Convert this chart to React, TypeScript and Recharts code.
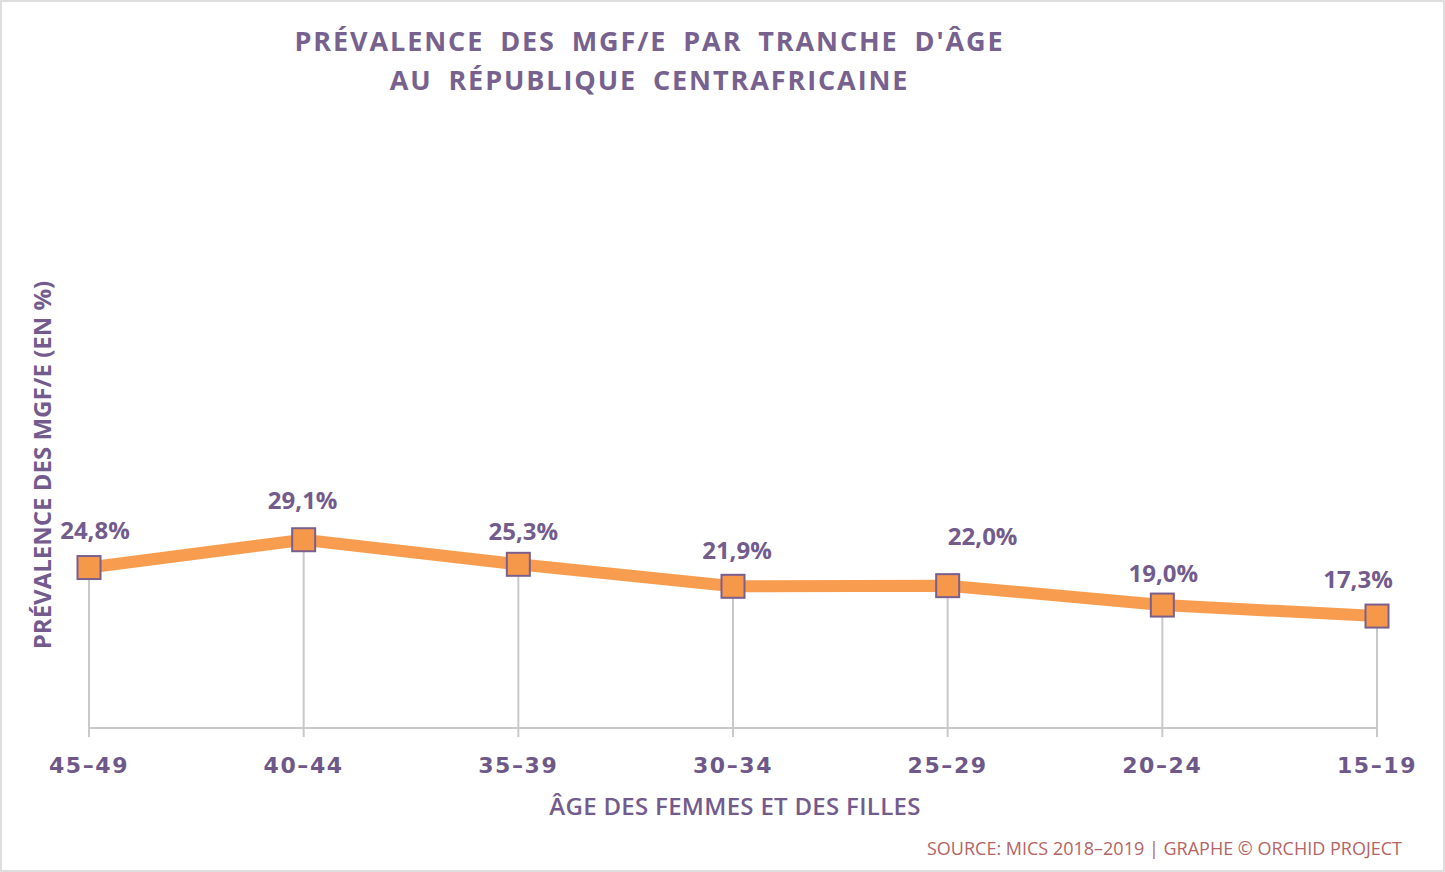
import React from 'react';
import { LineChart, Line, XAxis, YAxis, ReferenceLine, LabelList } from 'recharts';

const categories = ['45–49', '40–44', '35–39', '30–34', '25–29', '20–24', '15–19'];
const prevalence = [24.8, 29.1, 25.3, 21.9, 22.0, 19.0, 17.3];
const valueLabels = ['24,8%', '29,1%', '25,3%', '21,9%', '22,0%', '19,0%', '17,3%'];
// label nudges (style only), in px relative to the point
const labelDx = [6, -1, 5, 4, 35, 1, -19];
const labelDy = [-38, -40, -34, -37, -50, -33, -38];

const data = categories.map((c, i) => ({ age: c, value: prevalence[i], label: valueLabels[i] }));

const PURPLE = '#735b8d';
const ORANGE = '#f89d4f';
const GRAY = '#c9c9c9';

const SquareDot = (props: any) => {
  const { cx, cy } = props;
  if (cx == null || cy == null) return null;
  const s = 23;
  return (
    <rect x={cx - s / 2} y={cy - s / 2} width={s} height={s} fill="#f6984a" stroke="#7a5f8e" strokeWidth={2} />
  );
};

const ValueLabel = (props: any) => {
  const { x, y, index } = props;
  return (
    <text
      x={x + labelDx[index]}
      y={y + labelDy[index]}
      textAnchor="middle"
      dominantBaseline="central"
      fill={PURPLE}
      fontFamily="'Open Sans', sans-serif"
      fontWeight={700}
      fontSize={24}
    >
      {valueLabels[index]}
    </text>
  );
};

export default function App() {
  return (
    <div
      style={{
        position: 'absolute',
        left: 0,
        top: 0,
        width: 1445,
        height: 872,
        background: '#fff',
        boxSizing: 'border-box',
        border: '2px solid #dedede',
        overflow: 'hidden',
      }}
    >
      <div
        style={{
          position: 'absolute',
          left: 0,
          top: 19,
          width: 1295,
          textAlign: 'center',
          color: '#76618f',
          fontFamily: "'Open Sans', sans-serif",
          fontWeight: 700,
          fontSize: 27,
          lineHeight: '39px',
          letterSpacing: 1.9,
          wordSpacing: 7,
        }}
      >
        <div>PRÉVALENCE DES MGF/E PAR TRANCHE D'ÂGE</div>
        <div>AU RÉPUBLIQUE CENTRAFRICAINE</div>
      </div>
      <div style={{ position: 'absolute', left: -2, top: -2 }}>
        <LineChart width={1445} height={872} data={data} margin={{ top: 81, right: 68, bottom: 104, left: 89 }}>
          <XAxis
            dataKey="age"
            height={40}
            axisLine={{ stroke: GRAY, strokeWidth: 2 }}
            tickLine={{ stroke: GRAY, strokeWidth: 2 }}
            tickSize={9}
            tickMargin={20}
            interval={0}
            tick={{ fill: '#6e5889', fontFamily: "'DejaVu Sans', sans-serif", fontWeight: 700, fontSize: 22, letterSpacing: 1.6 }}
          />
          <YAxis hide domain={[0, 100]} width={0} />
          <Line
            dataKey="value"
            stroke={ORANGE}
            strokeWidth={12}
            dot={<SquareDot />}
            activeDot={false}
            isAnimationActive={false}
          >
            <LabelList dataKey="label" content={<ValueLabel />} />
          </Line>
          {data.map((d) => (
            <ReferenceLine
              key={d.age}
              segment={[
                { x: d.age, y: 0 },
                { x: d.age, y: d.value },
              ]}
              stroke={GRAY}
              strokeWidth={2}
            />
          ))}
        </LineChart>
      </div>
      <div
        style={{
          position: 'absolute',
          left: 0,
          top: 789,
          width: 1466,
          textAlign: 'center',
          color: '#735b8d',
          fontFamily: "'Open Sans', sans-serif",
          fontWeight: 600,
          fontSize: 24,
          lineHeight: '30px',
          letterSpacing: 0.3,
        }}
      >
        ÂGE DES FEMMES ET DES FILLES
      </div>
      <div
        style={{
          position: 'absolute',
          left: 40,
          top: 463,
          transform: 'translate(-50%, -50%) rotate(-90deg)',
          whiteSpace: 'nowrap',
          color: '#735b8d',
          fontFamily: "'Open Sans', sans-serif",
          fontWeight: 700,
          fontSize: 24,
          lineHeight: '30px',
        }}
      >
        PRÉVALENCE DES MGF/E (EN %)
      </div>
      <div
        style={{
          position: 'absolute',
          right: 41,
          top: 833,
          whiteSpace: 'nowrap',
          color: '#b46464',
          fontFamily: "'Open Sans', sans-serif",
          fontSize: 18,
          lineHeight: '26px',
        }}
      >
        SOURCE: MICS 2018–2019 | GRAPHE © ORCHID PROJECT
      </div>
    </div>
  );
}
